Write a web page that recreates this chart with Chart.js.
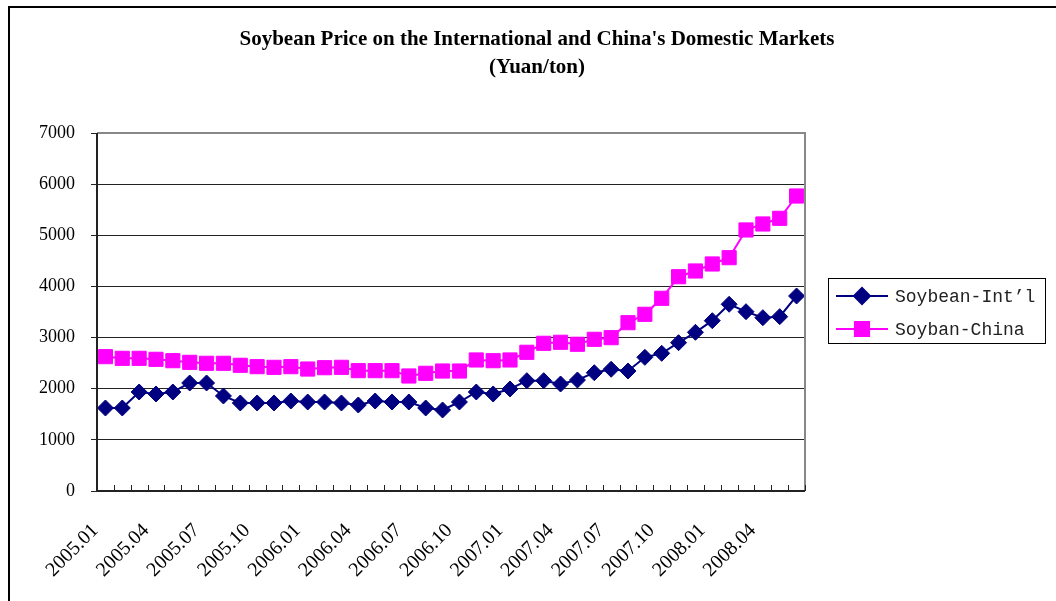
<!DOCTYPE html>
<html>
<head>
<meta charset="utf-8">
<script src="https://cdn.jsdelivr.net/npm/chart.js@4/dist/chart.umd.min.js"></script>
<style>
  body { margin: 0; background: #fff; }
  #wrap { position: relative; width: 1056px; height: 601px; overflow: hidden; }
  #frame { position: absolute; left: 8px; top: 6px; width: 1060px; height: 620px; border-left: 2px solid #000; border-top: 2px solid #000; box-sizing: border-box; }
  #title { position: absolute; left: 0; width: 1074px; top: 24px; text-align: center; font-family: "Liberation Serif", serif; font-weight: bold; font-size: 21px; line-height: 28px; color: #000; }
  canvas { position: absolute; left: 0; top: 0; }
</style>
</head>
<body>
<div id="wrap">
  <div id="frame"></div>
  <canvas id="chart" width="1056" height="601"></canvas>
  <div id="title">Soybean Price on the International and China's Domestic Markets<br>(Yuan/ton)</div>
</div>
<script>
const months = [
  '2005.01', '2005.02', '2005.03', '2005.04', '2005.05', '2005.06', '2005.07', '2005.08', '2005.09', '2005.10', '2005.11', '2005.12',
  '2006.01', '2006.02', '2006.03', '2006.04', '2006.05', '2006.06', '2006.07', '2006.08', '2006.09', '2006.10', '2006.11', '2006.12',
  '2007.01', '2007.02', '2007.03', '2007.04', '2007.05', '2007.06', '2007.07', '2007.08', '2007.09', '2007.10', '2007.11', '2007.12',
  '2008.01', '2008.02', '2008.03', '2008.04', '2008.05', '2008.06'
];

const soybeanIntl = [
  1623, 1623, 1936, 1897, 1936, 2112, 2112, 1858, 1721, 1721, 1721, 1760,
  1740, 1740, 1721, 1682, 1760, 1740, 1740, 1623, 1584, 1740, 1936, 1897,
  1995, 2157, 2157, 2092, 2170, 2313, 2380, 2346, 2614, 2692, 2900, 3103,
  3330, 3651, 3506, 3389, 3409, 3813
];

const soybeanChina = [
  2627, 2594, 2594, 2575, 2548, 2516, 2497, 2497, 2458, 2431, 2418, 2431,
  2385, 2411, 2418, 2353, 2353, 2353, 2249, 2301, 2346, 2346, 2562, 2548,
  2562, 2712, 2888, 2908, 2869, 2966, 2998, 3291, 3455, 3768, 4190, 4302,
  4439, 4562, 5104, 5221, 5332, 5768
];

const yTicks = { min: 0, max: 7000, step: 1000 };

const serif = '"Liberation Serif", "Times New Roman", serif';

// plot frame, inner x tick marks and the boxed legend
const decorPlugin = {
  id: 'decor',
  afterDraw(chart) {
    const { ctx, chartArea: a, scales } = chart;
    ctx.save();
    // grey frame on top and right
    ctx.strokeStyle = '#888';
    ctx.lineWidth = 2;
    ctx.beginPath();
    ctx.moveTo(a.left, a.top);
    ctx.lineTo(a.right, a.top);
    ctx.lineTo(a.right, a.bottom);
    ctx.stroke();
    // dark axes
    ctx.strokeStyle = '#222';
    ctx.beginPath();
    ctx.moveTo(a.left, a.top);
    ctx.lineTo(a.left, a.bottom);
    ctx.lineTo(a.right, a.bottom);
    ctx.stroke();
    // x tick marks pointing up, between categories
    const x = scales.x;
    const half = (x.getPixelForValue(1) - x.getPixelForValue(0)) / 2;
    ctx.lineWidth = 1;
    ctx.beginPath();
    for (let i = 0; i <= months.length; i++) {
      const px = Math.round(x.getPixelForValue(i) - half) + 0.5;
      ctx.moveTo(px, a.bottom);
      ctx.lineTo(px, a.bottom - 6);
    }
    ctx.stroke();

    // legend
    const lx = 828, ly = 278, lw = 217, lh = 65;
    ctx.strokeStyle = '#000';
    ctx.lineWidth = 1;
    ctx.strokeRect(lx + 0.5, ly + 0.5, lw, lh);
    ctx.font = '18px "Liberation Mono", monospace';
    ctx.textBaseline = 'middle';
    chart.data.datasets.forEach((ds, i) => {
      const cy = ly + 18 + i * 33;
      ctx.strokeStyle = ds.borderColor;
      ctx.lineWidth = 2;
      ctx.beginPath();
      ctx.moveTo(lx + 8, cy);
      ctx.lineTo(lx + 60, cy);
      ctx.stroke();
      Chart.helpers.drawPoint(ctx, {
        pointStyle: ds.pointStyle,
        radius: ds.pointRadius,
        borderWidth: 1
      }, lx + 34, cy);
      ctx.fillStyle = ds.borderColor;
      ctx.fill();
      ctx.fillStyle = '#222';
      ctx.fillText(ds.label, lx + 67, cy + 1);
    });
    ctx.restore();
  }
};

new Chart(document.getElementById('chart'), {
  type: 'line',
  data: {
    labels: months,
    datasets: [
      {
        label: 'Soybean-Int\u2019l',
        data: soybeanIntl,
        borderColor: '#000080',
        backgroundColor: '#000080',
        borderWidth: 2,
        pointStyle: 'rectRot',
        pointRadius: 8,
        pointBorderWidth: 1,
        tension: 0
      },
      {
        label: 'Soyban-China',
        data: soybeanChina,
        borderColor: '#ff00ff',
        backgroundColor: '#ff00ff',
        borderWidth: 2,
        pointStyle: 'rect',
        pointRadius: 10,
        pointBorderWidth: 1,
        tension: 0
      }
    ]
  },
  options: {
    responsive: false,
    animation: false,
    layout: { padding: { left: 0, top: 133, right: 251, bottom: 0 } },
    plugins: {
      legend: { display: false },
      title: { display: false },
      tooltip: { enabled: false }
    },
    scales: {
      x: {
        offset: true,
        grid: { display: false },
        border: { display: false },
        afterFit(scale) { scale.height = 110; },
        ticks: {
          autoSkip: false,
          minRotation: 45,
          maxRotation: 45,
          padding: 20,
          labelOffset: -10,
          color: '#000',
          font: { family: serif, size: 20 },
          callback(value, index) { return index % 3 === 0 ? months[index] : ''; }
        }
      },
      y: {
        min: yTicks.min,
        max: yTicks.max,
        afterFit(scale) { scale.width = 97; },
        grid: { color: '#222', lineWidth: 1, tickLength: 6, drawTicks: true },
        border: { display: false },
        ticks: {
          stepSize: yTicks.step,
          padding: 16,
          color: '#000',
          font: { family: serif, size: 18 },
          callback: (v) => String(v)
        }
      }
    }
  },
  plugins: [decorPlugin]
});
</script>
</body>
</html>
